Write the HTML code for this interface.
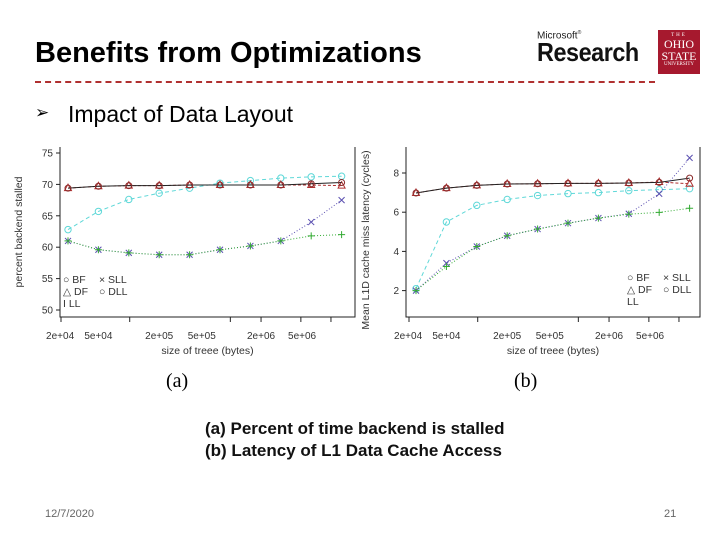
<!DOCTYPE html>
<html><head><meta charset="utf-8">
<style>
body{margin:0;background:#fff;}
#slide{position:relative;width:720px;height:540px;overflow:hidden;font-family:"Liberation Sans",sans-serif;background:#fff;}
.t{position:absolute;white-space:nowrap;}
</style></head>
<body>
<div id="slide">
<div class="t" style="left:35px;top:37px;font-size:29px;font-weight:bold;color:#000;">Benefits from Optimizations</div>
<div style="position:absolute;left:35px;top:81px;width:620px;border-top:2px dashed #b03030;"></div>
<div class="t" style="left:537px;top:30px;">
  <div style="font-size:10px;color:#222;">Microsoft<sup style="font-size:5px">®</sup></div>
  <div style="font-size:26px;font-weight:bold;color:#111;margin-top:-4px;letter-spacing:-0.5px;transform:scaleX(0.9);transform-origin:left;">Research</div>
</div>
<div style="position:absolute;left:658px;top:30px;width:42px;height:44px;background:#a6192e;color:#fff;font-family:'Liberation Serif',serif;text-align:center;line-height:1;">
  <div style="font-size:5px;margin-top:3px;letter-spacing:2px;">THE</div>
  <div style="font-size:12px;">OHIO</div><div style="font-size:12px;">STATE</div>
  <div style="font-size:5px;">UNIVERSITY</div>
</div>
<div class="t" style="left:35px;top:103px;font-size:17px;font-family:'DejaVu Sans',sans-serif;">➢</div>
<div class="t" style="left:68px;top:101px;font-size:23px;">Impact of Data Layout</div>

<svg id="chart" width="720" height="540" style="position:absolute;left:0;top:0;"></svg>

<div class="t" style="left:166px;top:370px;font-family:'Liberation Serif',serif;font-size:20px;">(a)</div>
<div class="t" style="left:514px;top:370px;font-family:'Liberation Serif',serif;font-size:20px;">(b)</div>
<div class="t" style="left:205px;top:419px;font-size:17px;font-weight:bold;color:#111;">(a) Percent of time backend is stalled</div>
<div class="t" style="left:205px;top:441px;font-size:17px;font-weight:bold;color:#111;">(b) Latency of L1 Data Cache Access</div>
<div class="t" style="left:45px;top:508px;font-size:11px;color:#666;">12/7/2020</div>
<div class="t" style="left:664px;top:508px;font-size:11px;color:#666;">21</div>
</div>
<script>
const seriesNames=["BF","DF","LL","SLL","DLL"];
const aBF=[62.8,65.7,67.6,68.6,69.4,70.2,70.6,71.0,71.2,71.3];
const aDF=[69.4,69.7,69.8,69.8,69.9,69.9,69.9,69.9,69.9,69.8];
const aDLL=[69.4,69.7,69.8,69.8,69.9,69.9,69.9,69.9,70.1,70.3];
const aSLL=[61.0,59.6,59.1,58.8,58.8,59.6,60.2,61.0,64.0,67.5];
const aLL=[61.0,59.6,59.1,58.8,58.8,59.6,60.2,61.0,61.8,62.0];
const aYTicks=[50,55,60,65,70,75];
const bBF=[2.1,5.5,6.35,6.65,6.85,6.95,7.0,7.1,7.15,7.2];
const bDF=[6.98,7.23,7.37,7.44,7.45,7.47,7.47,7.49,7.54,7.45];
const bDLL=[6.98,7.23,7.37,7.44,7.45,7.47,7.47,7.49,7.52,7.74];
const bSLL=[2.0,3.4,4.25,4.8,5.14,5.44,5.7,5.92,6.94,8.77];
const bLL=[2.0,3.23,4.25,4.8,5.14,5.44,5.7,5.9,5.99,6.2];
const bYTicks=[2,4,6,8];
const xLabels=["2e+04","5e+04","2e+05","5e+05","2e+06","5e+06"];
const xLabelPos=[-0.26,1,3.0,4.4,6.35,7.7];
const xTickPos=[-0.23,2.03,5.34,6.35,7.66,8.65];

const svg=document.getElementById('chart');
const NS='http://www.w3.org/2000/svg';
function mk(tag,attrs,parent){const e=document.createElementNS(NS,tag);for(const k in attrs)e.setAttribute(k,attrs[k]);(parent||svg).appendChild(e);return e;}

function drawChart(cfg){
  const g=mk('g',{});
  
  
  const X=i=>cfg.x0+i*cfg.dx;
  const Y=v=>cfg.yTop+(cfg.vTop-v)*cfg.py;
  const ax=mk('path',{d:`M${cfg.left},${cfg.top} V${cfg.bottom} H${cfg.right} V${cfg.top}`,fill:'none',stroke:'#222','stroke-width':1},g);
  
  
  cfg.yTicks.forEach(v=>{
    mk('line',{x1:cfg.left-4,x2:cfg.left,y1:Y(v),y2:Y(v),stroke:'#222'},g);
    const t=mk('text',{x:cfg.left-7,y:Y(v)+3.5,'font-size':10,'text-anchor':'end',fill:'#333'},g);
    t.textContent=v;
    
    
  });
  xTickPos.forEach(p=>mk('line',{x1:X(p),x2:X(p),y1:cfg.bottom,y2:cfg.bottom+5,stroke:'#222'},g));
  xLabels.forEach((l,i)=>{
    const t=mk('text',{x:X(xLabelPos[i]),y:cfg.bottom+22,'font-size':10,'text-anchor':'middle',fill:'#333'},g);
    t.textContent=l;
    
    
  });
  const xt=mk('text',{x:(cfg.left+cfg.right)/2,y:cfg.bottom+37,'font-size':10.5,'text-anchor':'middle',fill:'#333'},g);
  xt.textContent='size of treee (bytes)';
  
  
  const yt=mk('text',{x:0,y:0,'font-size':10.5,'text-anchor':'middle',fill:'#333',transform:`translate(${cfg.ytx},${cfg.yty}) rotate(-90)`},g);
  yt.textContent=cfg.ytitle;
  
  
  const styles=[
    {d:cfg.BF,c:'#5fd8d8',dash:'4,3',m:'o',n:'series-bf'},
    {d:cfg.DF,c:'#b03030',dash:'3,2',m:'tri',n:'series-df'},
    {d:cfg.DLL,c:'#222',dash:'',m:'o2',n:'series-dll'},
    {d:cfg.SLL,c:'#5a4fb0',dash:'1,2',m:'x',n:'series-sll'},
    {d:cfg.LL,c:'#33aa33',dash:'1,2',m:'+',n:'series-ll'}];
  styles.forEach(s=>{
    const sg=mk('g',{},g);
    
    
    const pts=s.d.map((v,i)=>X(i)+','+Y(v)).join(' ');
    mk('polyline',{points:pts,fill:'none',stroke:s.c,'stroke-width':1,'stroke-dasharray':s.dash},sg);
    s.d.forEach((v,i)=>{
      const x=X(i),y=Y(v);
      if(s.m==='o')mk('circle',{cx:x,cy:y,r:3.2,fill:'none',stroke:s.c},sg);
      else if(s.m==='o2')mk('circle',{cx:x,cy:y,r:3,fill:'none',stroke:'#8a2a2a'},sg);
      else if(s.m==='tri')mk('path',{d:`M${x},${y-4} L${x+3.5},${y+2.5} L${x-3.5},${y+2.5}Z`,fill:'none',stroke:s.c},sg);
      else if(s.m==='x')mk('path',{d:`M${x-3},${y-3} L${x+3},${y+3} M${x-3},${y+3} L${x+3},${y-3}`,stroke:s.c},sg);
      else mk('path',{d:`M${x-3.5},${y} H${x+3.5} M${x},${y-3.5} V${y+3.5}`,stroke:s.c},sg);
    });
  });
  const lg=mk('g',{},g);
  
  
  const L=[["○ BF",0,0],["△ DF",0,12],[cfg.llLabel,0,24],["× SLL",36,0],["○ DLL",36,12]];
  L.forEach(e=>{
    const t=mk('text',{x:cfg.lx+e[1],y:cfg.ly+e[2],'font-size':10.5,fill:'#333'},lg);
    t.textContent=e[0];
    
    
  });
}
drawChart({name:'chart-a',left:60,right:355,top:147,bottom:317,x0:68,dx:30.4,yTop:153,vTop:75,py:6.28,yTicks:aYTicks,
  BF:aBF,DF:aDF,DLL:aDLL,SLL:aSLL,LL:aLL,ytitle:'percent backend stalled',ytx:22,yty:232,lx:63,ly:283,llLabel:'I  LL'});
drawChart({name:'chart-b',left:406,right:700,top:147,bottom:317,x0:416,dx:30.4,yTop:173,vTop:8,py:19.6,yTicks:bYTicks,
  BF:bBF,DF:bDF,DLL:bDLL,SLL:bSLL,LL:bLL,ytitle:'Mean L1D cache miss latency (cycles)',ytx:369,yty:240,lx:627,ly:281,llLabel:'   LL'});
</script>
</body></html>
